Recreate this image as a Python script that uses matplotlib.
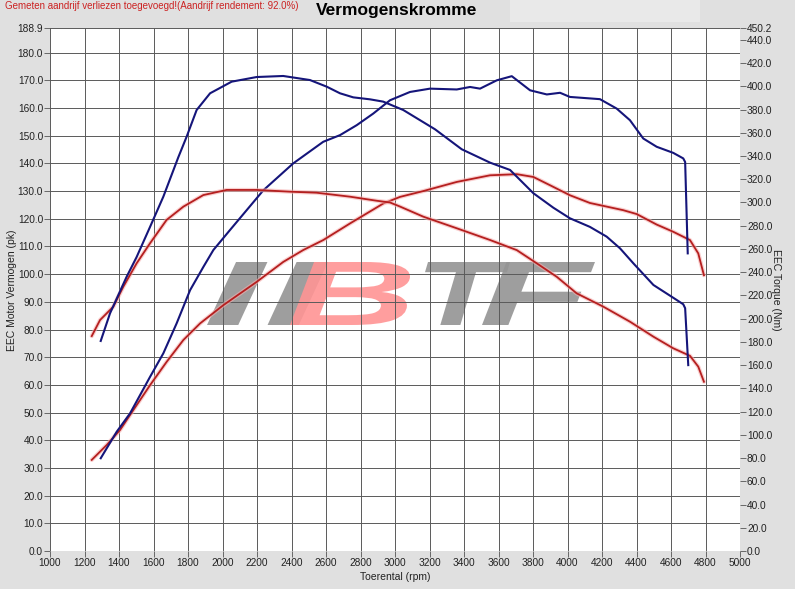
import matplotlib
matplotlib.use("Agg")
import matplotlib.pyplot as plt
from matplotlib.ticker import FixedLocator, FuncFormatter
from matplotlib.textpath import TextPath
from matplotlib.patches import PathPatch
from matplotlib.font_manager import FontProperties
from matplotlib.transforms import Affine2D

plt.rcParams['font.family'] = ['Liberation Sans', 'DejaVu Sans']

# ---- data ----
bt_rpm = [1294, 1348, 1444, 1502, 1580, 1657, 1744, 1792, 1850, 1928, 2053, 2198, 2352, 2507,
          2604, 2681, 2758, 2855, 2932, 3048, 3232, 3387, 3551, 3667, 3802, 3918, 4014, 4130,
          4227, 4304, 4382, 4498, 4613, 4671, 4682, 4700]
bt_nm = [180.8, 204.6, 236, 253, 279, 305, 339, 356.6, 379.6, 394, 404, 408, 408.9, 405.4,
         399.7, 394, 390.5, 388.8, 386.8, 379.6, 363, 345.8, 334.3, 328, 308, 295.5, 286.4, 279,
         270.6, 260.6, 247.6, 229, 218, 212.4, 209, 160]

bp_rpm = [1294, 1387, 1464, 1580, 1657, 1734, 1812, 1889, 1947, 2043, 2237, 2410, 2584, 2681,
          2778, 2874, 2971, 3087, 3203, 3358, 3435, 3493, 3590, 3677, 3783, 3880, 3957, 4014,
          4188, 4285, 4362, 4439, 4517, 4613, 4671, 4682, 4697]
bp_pk = [33.5, 43.1, 49.7, 62.9, 71.4, 82.2, 94.2, 102.6, 108.7, 115.9, 130.3, 140, 147.8, 150.2,
         153.8, 158, 162.8, 165.8, 167, 166.7, 167.6, 167, 170, 171.5, 166.4, 164.9, 165.5, 164,
         163.2, 159.8, 155.6, 149, 146, 143.8, 141.8, 140.5, 107.5]

rt_rpm = [1242, 1290, 1367, 1425, 1502, 1580, 1676, 1773, 1889, 2024, 2198, 2391, 2546, 2739,
          2894, 2971, 3029, 3164, 3358, 3551, 3706, 3822, 3938, 4053, 4208, 4362, 4498, 4613,
          4710, 4758, 4791]
rt_nm = [185, 198.8, 210.3, 227.5, 247.6, 264.9, 285, 296.4, 306.4, 310.8, 310.8, 309.3, 308.4,
         305, 301.5, 300, 296.5, 287.8, 277.8, 267.7, 259, 247.6, 236, 221.8, 210.3, 197.4,
         184.5, 174.5, 168, 158.7, 145.7]

rp_rpm = [1242, 1329, 1406, 1483, 1580, 1676, 1773, 1870, 2005, 2198, 2352, 2468, 2584, 2739,
          2932, 3029, 3164, 3358, 3551, 3706, 3802, 3899, 4014, 4130, 4323, 4401, 4517, 4613,
          4710, 4758, 4791]
rp_pk = [32.9, 38.3, 43.7, 50.9, 59.9, 68.3, 76.2, 82.2, 88.8, 97.2, 104.4, 108.7, 112.3, 118.3,
         125.5, 127.9, 130, 133.3, 135.7, 136.1, 135.1, 132.1, 128.5, 125.7, 123.1, 121.7, 117.9,
         115.3, 112.3, 107.5, 99.6]

x_ticks = list(range(1000, 5001, 200))
left_ticks = [float(v) for v in range(0, 181, 10)] + [188.9]
right_ticks = [float(v) for v in range(0, 441, 20)] + [450.2]

title = "Vermogenskromme"
note = "Gemeten aandrijf verliezen toegevoegd!(Aandrijf rendement: 92.0%)"

# ---- figure ----
W, H = 795, 589
fig = plt.figure(figsize=(W / 100, H / 100), dpi=100)
fig.patch.set_facecolor('#e0e0e0')
fig.patches.append(plt.Rectangle((510 / W, 1 - 22 / H), 190 / W, 22 / H,
                                 transform=fig.transFigure, facecolor='#e9e9e9',
                                 edgecolor='none', zorder=0))

ax = fig.add_axes([50 / W, 1 - 551 / H, 690 / W, 523 / H])
ax.set_facecolor('white')
ax.set_xlim(1000, 5000)
ax.set_ylim(0, 188.9)
for s in ax.spines.values():
    s.set_visible(False)

ax.xaxis.set_major_locator(FixedLocator(x_ticks))
ax.yaxis.set_major_locator(FixedLocator(left_ticks))
ax.xaxis.set_major_formatter(FuncFormatter(lambda v, p: f"{int(round(v))}"))
ax.yaxis.set_major_formatter(FuncFormatter(lambda v, p: f"{v:.1f}"))
ax.tick_params(axis='both', labelsize=7.3, length=4, width=0.6, color='#555555',
               labelcolor='#222222', pad=1)
ax.grid(True, color='#5a5a5a', linewidth=0.7)
ax.set_axisbelow('line')

ax2 = ax.twinx()
ax2.set_ylim(0, 450.2)
for s in ax2.spines.values():
    s.set_visible(False)
ax2.yaxis.set_major_locator(FixedLocator(right_ticks))
ax2.yaxis.set_major_formatter(FuncFormatter(lambda v, p: f"{v:.1f}"))
ax2.tick_params(axis='y', labelsize=7.3, length=4, width=0.6, color='#555555',
                labelcolor='#222222', pad=1)

# logo watermark (stretched bold italic text paths, in figure pixel coordinates)
pix = Affine2D().scale(1 / W, 1 / H) + fig.transFigure
fp = FontProperties(family='Liberation Sans', weight='bold', style='italic')


def logo_piece(txt, x_left, x_right, y_top, y_bot, color):
    tp = TextPath((0, 0), txt, size=1, prop=fp)
    ext = tp.get_extents()
    sx = (x_right - x_left) / ext.width
    sy = (y_bot - y_top) / ext.height
    tr = Affine2D().translate(-ext.x0, -ext.y0).scale(sx, sy).translate(x_left, H - y_bot)
    patch = PathPatch(tr.transform_path(tp), facecolor=color, edgecolor='none',
                      transform=pix, zorder=0.3, clip_on=False, alpha=0.9)
    ax.add_artist(patch)


logo_piece("II", 207, 328, 262, 325, '#949494')
logo_piece("B", 290, 410, 262, 325, '#ff9494')
logo_piece("T", 425, 510, 262, 325, '#949494')
logo_piece("F", 482, 595, 262, 325, '#949494')

# curves
red = '#b51f1f'
blue = '#15157a'
halo = '#f6b0b0'
ax.plot(rp_rpm, rp_pk, color=halo, lw=3.0, alpha=0.6, zorder=3, solid_capstyle='round')
ax.plot(rp_rpm, rp_pk, color=red, lw=1.3, zorder=4)
ax.plot(bp_rpm, bp_pk, color=blue, lw=1.5, zorder=5)
ax2.plot(rt_rpm, rt_nm, color=halo, lw=3.0, alpha=0.6, zorder=3, solid_capstyle='round')
ax2.plot(rt_rpm, rt_nm, color=red, lw=1.3, zorder=4)
ax2.plot(bt_rpm, bt_nm, color=blue, lw=1.5, zorder=5)

# texts
fig.text(397 / W, 1 - 10 / H, title, ha='center', va='center', fontsize=12.5,
         fontweight='bold', color='black')
fig.text(5 / W, 1 - 6 / H, note, ha='left', va='center', fontsize=7, color='#cc2222')
fig.text(395 / W, 1 - 577 / H, "Toerental (rpm)", ha='center', va='center', fontsize=7.5,
         color='#222222')
fig.text(12 / W, 1 - 290 / H, "EEC Motor Vermogen (pk)", ha='center', va='center',
         rotation=90, fontsize=7.5, color='#222222')
fig.text(776 / W, 1 - 290 / H, "EEC Torque (Nm)", ha='center', va='center',
         rotation=270, fontsize=7.5, color='#222222')

fig.savefig("out.png", dpi=100, facecolor=fig.get_facecolor())
